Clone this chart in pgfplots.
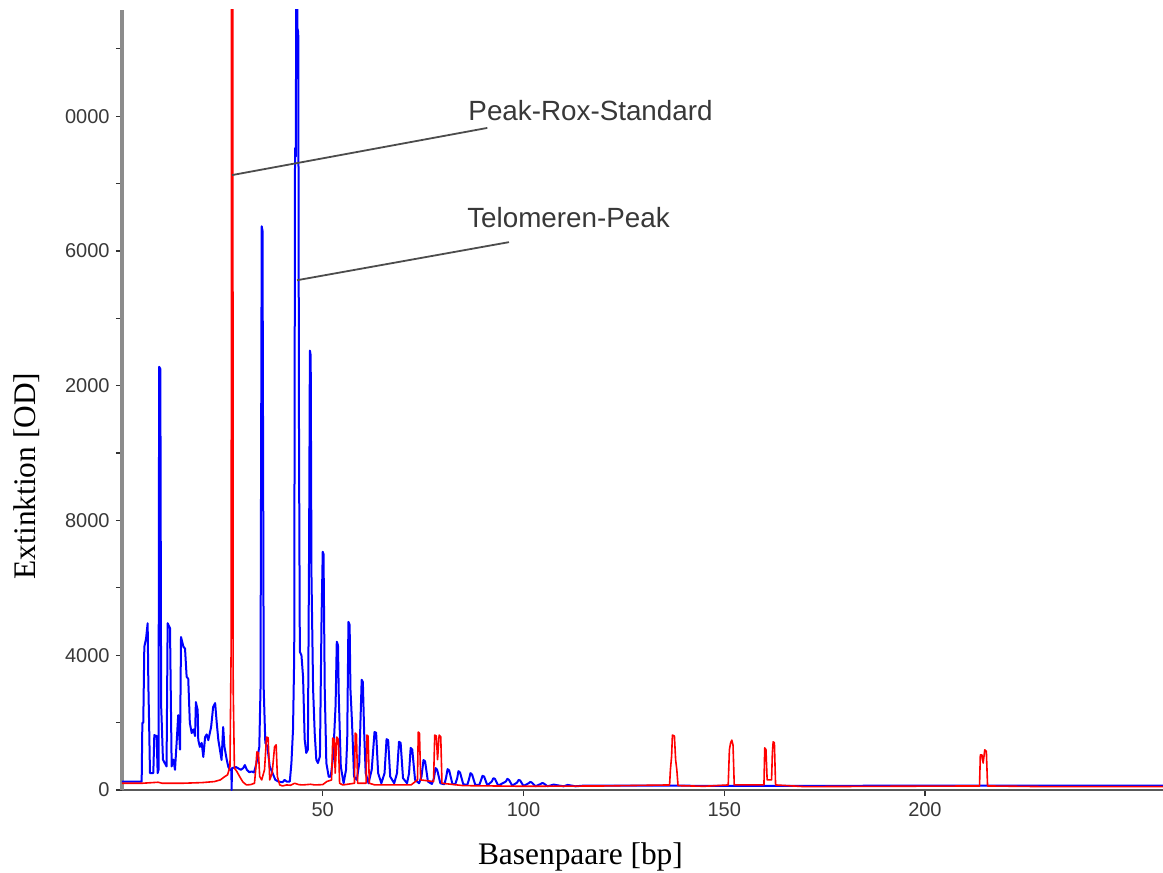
\documentclass[border=0pt]{standalone}
\usepackage{fontspec}
\setmainfont{Liberation Serif}
\newfontfamily\arial{Liberation Sans}
\usepackage{pgfplots}
\pgfplotsset{compat=1.18}

\definecolor{axgray}{gray}{0.55}
\definecolor{labgray}{gray}{0.22}

\begin{document}
\begin{tikzpicture}
\begin{axis}[
  scale only axis,
  width=520.5pt, height=390pt,
  xmin=0, xmax=259.3,
  ymin=0, ymax=23150,
  axis x line=bottom, axis y line=left,
  x axis line style={-, line width=1pt, black!65},
  y axis line style={-, line width=1.8pt, axgray},
  xtick={50,100,150,200},
  ytick={0,4000,8000,12000,16000,20000},
  yticklabels={0,4000,8000,2000,6000,0000},
  minor ytick={2000,6000,10000,14000,18000,22000},
  tick align=outside,
  x tick style={black!80, line width=0.6pt},
  y tick style={black!80, line width=0.6pt},
  major tick length=3pt, minor tick length=3pt,
  /pgf/number format/assume math mode=true,
  scaled y ticks=false,
  tick label style={font=\arial\fontsize{10}{12}\selectfont, text=labgray},
  xticklabel style={anchor=north, inner sep=0pt, yshift=-3pt},
  yticklabel style={anchor=east, inner sep=0pt, xshift=-3pt},
  xlabel={Basenpaare [bp]},
  ylabel={Extinktion [OD]},
  label style={font=\fontsize{15.7}{18}\selectfont},
  xlabel style={at={([yshift=-37pt]axis description cs:0.4404,0)}, anchor=base},
  ylabel style={at={([xshift=-43pt]axis description cs:0,0.4026)}, anchor=base},
]
% blue trace
\addplot[blue, line width=1pt, line join=round] coordinates {
(0,250) (4.9,250) (5.07,1990) (5.3,2000) (5.56,4250) (6.0,4500) (6.39,4950)
(6.56,3170) (6.75,2000) (6.97,500) (7.8,500) (8.05,1630) (8.63,1600) (8.88,500)
(9.1,600) (9.25,12560) (9.55,12500) (9.75,2500) (9.88,2080) (10.2,900) (11.1,700)
(11.37,4950) (11.96,4800) (12.2,2370) (12.37,700) (12.8,900) (13.2,600) (13.6,1390)
(14.0,2220) (14.45,1200) (14.7,4540) (15.3,4250) (15.7,4200) (16.1,3360) (16.5,3300)
(16.9,1990) (17.36,1690) (17.8,1800) (18.2,1600) (18.4,2610) (18.85,2370) (19.0,1480)
(19.4,1280) (19.85,1400) (20.25,980) (20.7,1570) (21.1,1650) (21.5,1480) (22.2,1870)
(22.7,2460) (23.2,2580) (23.6,1990) (24.0,1480) (24.4,1190) (24.8,890) (25.2,1870)
(25.5,1300) (26.1,890) (26.5,680) (26.9,600) (27.25,600) (27.3,0) (27.4,650)
(28.4,680) (29.0,640) (29.6,600) (30.2,650) (30.6,740) (31.1,600) (31.7,530)
(32.3,550) (32.9,520) (33.5,800) (34.2,1280) (34.5,3000) (34.8,16730) (35.0,16600)
(35.3,3000) (35.7,1400) (36.2,1300) (36.8,700) (37.5,500) (38.2,300) (39.0,250)
(40.0,230) (40.5,300) (41.0,250) (41.8,250) (42.2,800) (42.6,1800) (42.9,4000)
(43.1,19050) (43.3,18800) (43.5,30000) (43.7,22600) (43.9,22500) (44.1,10000)
(44.3,4100) (44.7,4000) (45.1,3360) (45.5,1500) (45.9,1100) (46.3,1200) (46.6,7130)
(46.8,13040) (47.0,12900) (47.2,6330) (47.6,3000) (48.0,1690) (48.4,900) (48.8,800)
(49.3,1000) (49.7,5050) (50.0,7070) (50.2,7000) (50.5,3000) (50.9,800) (51.5,390)
(52.0,400) (52.6,1000) (53.2,2500) (53.5,4400) (53.8,4300) (54.0,2760) (54.5,700)
(55.2,200) (55.8,600) (56.1,1500) (56.4,4990) (56.7,4900) (56.9,3000) (57.3,1990)
(57.8,400) (58.5,300) (59.1,800) (59.7,3270) (60.0,3200) (60.3,1780) (60.7,500)
(61.4,200) (62.2,600) (62.9,1720) (63.3,1700) (63.8,500) (64.6,200) (65.4,500)
(65.9,1510) (66.3,1480) (66.8,400) (67.8,200) (68.5,500) (69.0,1430) (69.4,1400)
(70.0,350) (71.0,200) (71.5,500) (71.9,1250) (72.3,1200) (73.0,300) (74.0,200)
(74.6,400) (75.1,890) (75.5,850) (76.2,250) (77.2,180) (77.7,350) (78.1,650)
(78.5,600) (79.3,200) (80.3,170) (80.7,350) (81.1,620) (81.5,580) (82.3,180)
(83.0,170) (83.5,350) (83.8,560) (84.2,520) (85.0,170) (86.0,150) (86.4,300)
(86.8,500) (87.2,460) (88.0,150) (89.0,150) (89.4,280) (89.8,420) (90.2,400)
(91.0,140) (92.1,250) (92.5,350) (92.9,330) (93.7,130) (95.6,250) (96.0,330)
(96.4,300) (97.2,130) (98.4,220) (98.8,300) (99.2,280) (100.0,120) (101.3,200)
(101.7,240) (102.1,220) (103.0,110) (104.3,180) (104.7,210) (105.1,190) (106.0,110)
(107.5,160) (108.0,150) (110.0,110) (111.0,150) (113.0,110) (115.0,130) (130.0,130)
(160.0,120) (200.0,130) (259.3,130)
};
% red trace
\addplot[red, line width=0.8pt, line join=round] coordinates {
(0,200) (5,200) (9,230) (10,200) (15,200) (20,220) (23,250) (24.5,300) (25.5,390)
(26.3,450) (26.9,700) (27.2,4400) (27.35,40000) (27.5,40000) (27.7,3000) (28.0,650)
(28.6,550) (29.3,400) (30.1,240) (31.0,150) (32.0,160) (33.0,200) (33.3,600)
(33.6,1130) (34.0,1100) (34.3,400) (34.8,300) (35.5,600) (36.0,1570) (36.4,1550)
(36.8,300) (37.4,500) (38.0,1280) (38.4,1340) (38.7,400) (39.3,150) (40,120) (41,150)
(42,140) (43,200) (44,160) (45,150) (47,170) (48,150) (50,160) (51,250) (52.2,300)
(52.5,1540) (52.9,1500) (53.1,500) (53.5,1570) (53.9,1500) (54.2,200) (55,150)
(57.9,200) (58.1,1690) (58.4,1650) (58.7,200) (60.8,200) (61.0,1630) (61.3,1600)
(61.6,200) (63,150) (68,150) (72,150) (73.6,300) (73.8,1720) (74.1,1680) (74.4,300)
(77.6,250) (77.9,1630) (78.3,1600) (78.6,900) (79.0,1630) (79.4,1580) (79.7,200)
(85,130) (100,110) (120,120) (136.4,150) (136.6,600) (136.9,1000) (137.1,1630)
(137.6,1600) (137.9,900) (138.2,600) (138.5,130) (145,110) (151.0,150) (151.3,1200)
(151.6,1400) (151.9,1480) (152.2,1330) (152.5,150) (159.9,150) (160.1,1250)
(160.4,1200) (160.7,300) (161.8,300) (162.0,1100) (162.2,1430) (162.5,1400)
(162.8,150) (170,100) (213.6,120) (213.8,1040) (214.2,1040) (214.5,800) (214.9,1190)
(215.3,1150) (215.6,120) (230,100) (259.3,100)
};
% annotations
\draw[black!70, line width=0.9pt] (axis cs:27.4,18250) -- (axis cs:91.0,19650);
\draw[black!70, line width=0.9pt] (axis cs:43.6,15130) -- (axis cs:96.4,16260);
\node[anchor=base west, inner sep=0pt, text=labgray, font=\arial\fontsize{13.9}{16}\selectfont]
  at (axis cs:86.2,19880) {Peak-Rox-Standard};
\node[anchor=base west, inner sep=0pt, text=labgray, font=\arial\fontsize{13.9}{16}\selectfont]
  at (axis cs:85.9,16700) {Telomeren-Peak};
\end{axis}
\pgfresetboundingbox
\path[use as bounding box] (-61pt,-41.5pt) rectangle (520.5pt,395pt);
\end{tikzpicture}
\end{document}
